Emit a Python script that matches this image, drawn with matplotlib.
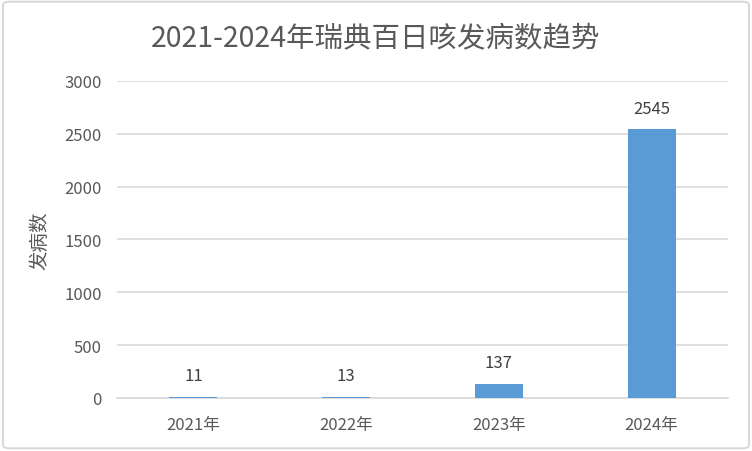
import matplotlib
matplotlib.use("Agg")
import matplotlib.pyplot as plt
from matplotlib.patches import FancyBboxPatch

plt.rcParams['font.family'] = ['Noto Sans CJK SC', 'DejaVu Sans']

categories = ['2021年', '2022年', '2023年', '2024年']
values = [11, 13, 137, 2545]
yticks = [0, 500, 1000, 1500, 2000, 2500, 3000]
title = '2021-2024年瑞典百日咳发病数趋势'
ylabel = '发病数'

bar_color = '#5B9BD5'
text_color = '#595959'
grid_color = '#D9D9D9'

fig = plt.figure(figsize=(7.52, 4.52), dpi=100)
fig.patch.set_facecolor('white')
border = FancyBboxPatch((0.004, 0.006), 0.992, 0.988, boxstyle='round,pad=0,rounding_size=0.008',
                        transform=fig.transFigure, facecolor='none', edgecolor=grid_color, linewidth=1.5)
fig.patches.append(border)

ax = fig.add_axes([0.1556, 0.1173, 0.8124, 0.7013])
x = list(range(len(categories)))
bars = ax.bar(x, values, width=0.314, color=bar_color, zorder=3)
ax.set_xlim(-0.5, len(categories) - 0.5)
ax.set_ylim(0, 3000)
ax.set_yticks(yticks)
ax.set_xticks(x)
ax.set_xticklabels(categories)
ax.yaxis.grid(True, color=grid_color, linewidth=1.2, zorder=0)
ax.set_axisbelow(True)
for s in ['top', 'right', 'left']:
    ax.spines[s].set_visible(False)
ax.spines['bottom'].set_color(grid_color)
ax.spines['bottom'].set_linewidth(1.2)
ax.tick_params(axis='both', length=0, labelsize=12, colors=text_color)
ax.tick_params(axis='y', pad=11)
ax.tick_params(axis='x', pad=13)

for xi, v in zip(x, values):
    ax.annotate(str(v), (xi, v), xytext=(0, 21), textcoords='offset pixels',
                ha='center', va='center', fontsize=12, color='#404040')

ax.set_ylabel(ylabel, fontsize=14, color=text_color)
ax.yaxis.set_label_coords((50 - 117) / 611, 0.5)
fig.text(0.5, 1 - 38 / 452, title, ha='center', va='center', fontsize=20.5, color=text_color)

fig.savefig('out.png', dpi=100)
